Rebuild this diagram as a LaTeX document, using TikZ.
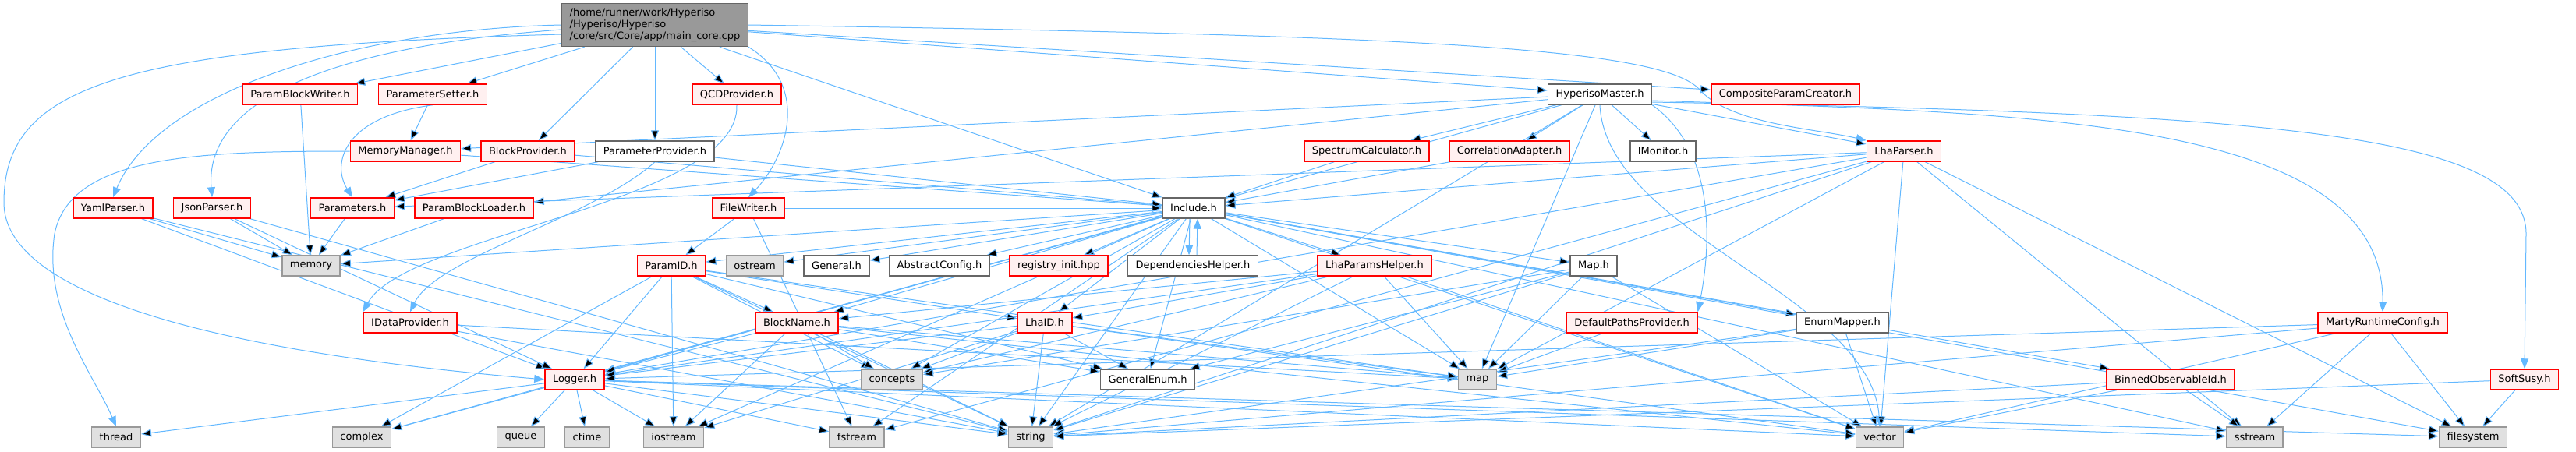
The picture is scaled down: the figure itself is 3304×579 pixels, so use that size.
\documentclass[tikz,border=0pt]{standalone}
\usepackage{fontspec}
\setmainfont{DejaVu Sans}
\usepackage{xcolor}
\usetikzlibrary{arrows.meta,backgrounds}
\definecolor{edgeblue}{RGB}{99,184,255}
\definecolor{rootfill}{HTML}{999999}
\definecolor{rootline}{HTML}{666666}
\definecolor{hdrline}{HTML}{666666}
\definecolor{truncline}{HTML}{FF0000}
\definecolor{truncfill}{HTML}{FFF0F0}
\definecolor{sysline}{HTML}{999999}
\definecolor{sysfill}{HTML}{E0E0E0}

\begin{document}
\begin{tikzpicture}[x=1pt,y=-1pt,
		every node/.style={font=\fontsize{13}{15}\selectfont,minimum height=26pt,inner xsep=10pt,inner ysep=3pt,line width=1.5pt},
		root/.style={draw=rootline,fill=rootfill,align=left,minimum width=238pt,minimum height=55pt},
		hdr/.style={draw=hdrline,fill=white},
		trunc/.style={draw=truncline,fill=truncfill},
		sys/.style={draw=sysline,fill=sysfill},
		dep/.style={draw=edgeblue,line width=1pt,-{Triangle[length=13pt,width=10pt]}}]
	\useasboundingbox (0,0) rectangle (3304,579);

	\node[root] (main) at (840,32) {/home/runner/work/Hyperiso\\/Hyperiso/Hyperiso\\/core/src/Core/app/main\_core.cpp};

	\node[trunc] (pbw) at (385,121) {ParamBlockWriter.h};
	\node[trunc] (psetter) at (555,121) {ParameterSetter.h};
	\node[trunc] (qcd) at (945,121) {QCDProvider.h};
	\node[hdr] (master) at (2052,121) {HyperisoMaster.h};
	\node[trunc] (composite) at (2290,121) {CompositeParamCreator.h};

	\node[trunc] (memmgr) at (520,194) {MemoryManager.h};
	\node[trunc] (blockprov) at (677,194) {BlockProvider.h};
	\node[hdr] (paramprov) at (840,194) {ParameterProvider.h};
	\node[trunc] (spectrum) at (1753,194) {SpectrumCalculator.h};
	\node[trunc] (correl) at (1936,194) {CorrelationAdapter.h};
	\node[hdr] (imonitor) at (2133,194) {IMonitor.h};
	\node[trunc] (lhaparser) at (2442,194) {LhaParser.h};

	\node[trunc] (yaml) at (145,267) {YamlParser.h};
	\node[trunc] (json) at (272,267) {JsonParser.h};
	\node[trunc] (params) at (452,267) {Parameters.h};
	\node[trunc] (pbloader) at (608,267) {ParamBlockLoader.h};
	\node[trunc] (filewriter) at (960,267) {FileWriter.h};
	\node[hdr] (include) at (1531,267) {Include.h};

	\node[sys] (memory) at (399,341) {memory};
	\node[trunc] (paramid) at (861,341) {ParamID.h};
	\node[sys] (ostream) at (968,341) {ostream};
	\node[hdr] (general) at (1073,341) {General.h};
	\node[hdr] (abstract) at (1205,341) {AbstractConfig.h};
	\node[trunc] (registry) at (1358,341) {registry\_init.hpp};
	\node[hdr] (dephelper) at (1530,341) {DependenciesHelper.h};
	\node[trunc] (lhahelper) at (1763,341) {LhaParamsHelper.h};
	\node[hdr] (maph) at (2044,341) {Map.h};

	\node[trunc] (idata) at (526,414) {IDataProvider.h};
	\node[trunc] (blockname) at (1022,414) {BlockName.h};
	\node[trunc] (lhaid) at (1340,414) {LhaID.h};
	\node[trunc] (defpaths) at (2093,414) {DefaultPathsProvider.h};
	\node[hdr] (enummapper) at (2363,414) {EnumMapper.h};
	\node[trunc] (marty) at (3056,414) {MartyRuntimeConfig.h};

	\node[trunc] (logger) at (737,487) {Logger.h};
	\node[sys] (concepts) at (1144,487) {concepts};
	\node[hdr] (genenum) at (1472,487) {GeneralEnum.h};
	\node[sys] (mapstd) at (1895,487) {map};
	\node[trunc] (binned) at (2784,487) {BinnedObservableId.h};
	\node[trunc] (softsusy) at (3238,487) {SoftSusy.h};

	\node[sys] (thread) at (149,561) {thread};
	\node[sys] (complex) at (464,561) {complex};
	\node[sys] (queue) at (668,561) {queue};
	\node[sys] (ctime) at (753,561) {ctime};
	\node[sys] (iostream) at (864,561) {iostream};
	\node[sys] (fstream) at (1099,561) {fstream};
	\node[sys] (string) at (1322,561) {string};
	\node[sys] (vector) at (2411,561) {vector};
	\node[sys] (sstream) at (2892,561) {sstream};
	\node[sys] (filesystem) at (3172,561) {filesystem};

	\begin{scope}[on background layer]
	\draw[dep] (main) edge (pbw) edge (psetter) edge (blockprov) edge (qcd) edge (paramprov)
		edge (include) edge (master) edge (composite);
	\draw[dep] (main.west) .. controls (450,38) and (200,120) .. (yaml.north);
	\draw[dep] ([yshift=-6pt]main.west) .. controls (420,60) and (262,130) .. (json.north);
	\draw[dep] (main.south east) .. controls (1040,110) and (1010,200) .. (filewriter.north);
	\draw[dep] (main.east) .. controls (1800,45) and (2130,60) .. (2180,115) .. controls (2220,160) and (2330,165) .. (lhaparser.north west);
	\draw[dep] ([yshift=-12pt]main.west) .. controls (150,60) and (5,110) .. (5,260) .. controls (5,420) and (500,470) .. (logger.west);
	\draw[dep] (pbw) edge (memory);
	\draw[dep] (psetter) edge (memmgr);
	\draw[dep] (psetter.south) .. controls (440,150) and (425,210) .. (params.north);
	\draw[dep] (memmgr.west) .. controls (250,194) and (90,200) .. (70,300) .. controls (55,400) and (120,480) .. (thread.north);
	\draw[dep] (memmgr) edge (include);
	\draw[dep] (blockprov) edge (params) edge (include);
	\draw[dep] (paramprov) edge (params) edge (include);
	\draw[dep] (paramprov.south) .. controls (760,280) and (560,330) .. (idata.north);
	\draw[dep] (qcd.south) .. controls (950,260) and (520,300) .. (idata.north west);
	\draw[dep] (yaml) edge (memory) edge (logger) edge (string);
	\draw[dep] (json) edge (memory) edge (logger) edge (string);
	\draw[dep] (params) edge (memory);
	\draw[dep] (pbloader) edge (memory);
	\draw[dep] (idata) edge (string) edge (mapstd);
	\draw[dep] (filewriter) edge (paramid) edge (include) edge (fstream);
	\draw[dep] (master) edge (memmgr) edge (pbloader) edge (spectrum) edge (correl) edge (imonitor)
		edge (lhaparser) edge (logger) edge (string) edge (mapstd);
	\draw[dep] (master.south east) .. controls (2210,200) and (2190,340) .. (defpaths.north east);
	\draw[dep] (master.south) .. controls (2060,300) and (2400,380) .. (vector.north);
	\draw[dep] ([yshift=-10pt]master.east) .. controls (2900,145) and (3240,170) .. (3240,300) -- (softsusy.north);
	\draw[dep] ([yshift=-8pt]master.east) .. controls (2600,145) and (3058,150) .. (marty.north);
	\draw[dep] (spectrum) edge (include);
	\draw[dep] (correl) edge (include);
	\draw[dep] (lhaparser) edge (include) edge (logger) edge (params) edge (mapstd) edge (vector)
		edge (string) edge (sstream) edge (filesystem) edge (fstream);
	\draw[dep] (include) edge (memory) edge (ostream) edge (general) edge (abstract) edge (registry)
		edge (paramid) edge (lhahelper) edge (maph) edge (enummapper) edge (binned) edge (logger)
		edge (concepts) edge (genenum) edge (mapstd) edge (string) edge (vector) edge (iostream)
		edge (fstream) edge (sstream) edge (filesystem) edge (lhaid) edge (blockname) edge (complex);
	\draw[dep] ([xshift=-5pt]include.south) -- ([xshift=-5pt]dephelper.north);
	\draw[dep] ([xshift=5pt]dephelper.north) -- ([xshift=5pt]include.south);
	\draw[dep] (paramid) edge (blockname) edge (lhaid) edge (concepts) edge (string) edge (logger)
		edge (iostream) edge (genenum) edge (complex) edge (mapstd);
	\draw[dep] (blockname) edge (concepts) edge (genenum) edge (string) edge (iostream) edge (logger)
		edge (mapstd) edge (vector);
	\draw[dep] (lhaid) edge (concepts) edge (genenum) edge (string) edge (iostream) edge (mapstd)
		edge (vector) edge (logger);
	\draw[dep] (lhahelper) edge (mapstd) edge (logger) edge (string) edge (vector) edge (concepts)
		edge (blockname) edge (lhaid);
	\draw[dep] (maph) edge (mapstd) edge (vector) edge (string) edge (genenum) edge (concepts);
	\draw[dep] (defpaths) edge (mapstd);
	\draw[dep] (enummapper) edge (mapstd) edge (vector) edge (string);
	\draw[dep] (marty) edge (logger) edge (sstream) edge (filesystem) edge (string) edge (vector);
	\draw[dep] (binned) edge (sstream) edge (string) edge (vector);
	\draw[dep] (softsusy) edge (filesystem) edge (string);
	\draw[dep] (logger) edge (thread) edge (complex) edge (queue) edge (ctime) edge (iostream)
		edge (fstream) edge (string) edge (vector) edge (sstream) edge (filesystem);
	\end{scope}
\end{tikzpicture}
\end{document}
